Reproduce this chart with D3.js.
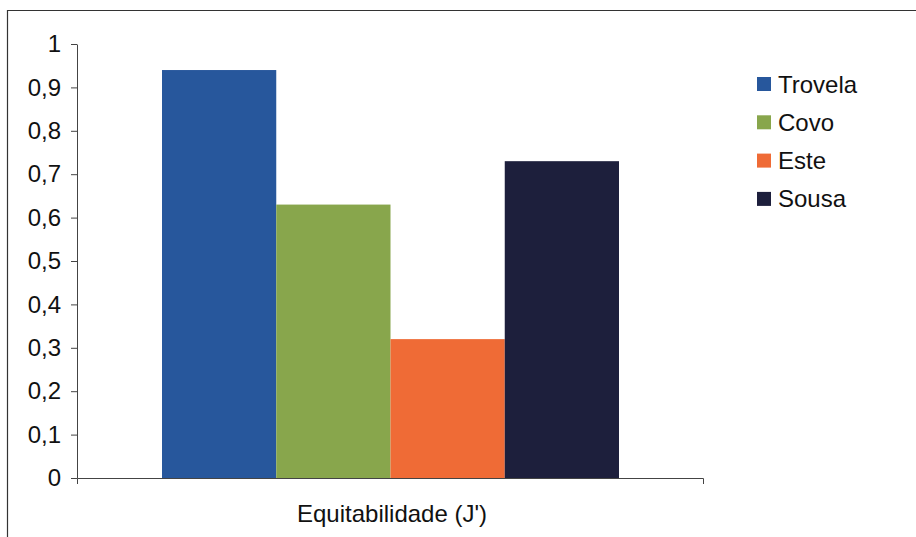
<!DOCTYPE html>
<html>
<head>
<meta charset="utf-8">
<script src="https://cdn.jsdelivr.net/npm/d3@7"></script>
<style>
  html, body { margin: 0; padding: 0; background: #fff; }
  svg { display: block; font-family: "Liberation Sans", Arial, sans-serif; }
</style>
</head>
<body>
<svg id="chart" width="916" height="537"></svg>
<script>
// Evenness index (J') per site
const sites = ["Trovela", "Covo", "Este", "Sousa"];
const values = [0.94, 0.63, 0.32, 0.73];
const colors = ["#27579c", "#88a64c", "#ef6b36", "#1d1f3c"];
const category = ["Equitabilidade (J')"];
const yTicks = [0, 0.1, 0.2, 0.3, 0.4, 0.5, 0.6, 0.7, 0.8, 0.9, 1];

const svg = d3.select("#chart");
const W = 916, H = 537;
const plot = { left: 77, right: 703, top: 44, bottom: 478 };
const FONT = "'Liberation Sans', Arial, sans-serif";

// Outer frame (top and left edges visible)
svg.append("line").attr("x1", 7).attr("x2", W).attr("y1", 10.5).attr("y2", 10.5)
  .attr("stroke", "#333").attr("stroke-width", 1.2);
svg.append("line").attr("x1", 7.5).attr("x2", 7.5).attr("y1", 10).attr("y2", H)
  .attr("stroke", "#333").attr("stroke-width", 1.2);

const y = d3.scaleLinear().domain([0, 1]).range([plot.bottom, plot.top]);
const x0 = d3.scaleBand().domain(category).range([plot.left, plot.right]).paddingInner(0).paddingOuter(0);
// bars fill the inner part of the category, with gaps on both sides
const x1 = d3.scaleBand().domain(sites)
  .range([x0(category[0]) + 85, x0(category[0]) + x0.bandwidth() - 84]).padding(0);

// Bars
svg.append("g").selectAll("rect")
  .data(sites.map((s, i) => ({ s, v: values[i], c: colors[i] })))
  .join("rect")
  .attr("x", d => x1(d.s))
  .attr("width", x1.bandwidth())
  .attr("y", d => y(d.v))
  .attr("height", d => y(0) - y(d.v))
  .attr("fill", d => d.c);

// Y axis
const yAxis = d3.axisLeft(y).tickValues(yTicks).tickSize(6).tickSizeOuter(0)
  .tickFormat(d => d3.format("~g")(d).replace(".", ","));
const gy = svg.append("g").attr("transform", `translate(${plot.left},0)`).call(yAxis);
gy.attr("font-family", FONT);
gy.select(".domain").attr("stroke", "#444");
gy.selectAll(".tick line").attr("stroke", "#444");
gy.selectAll(".tick text").attr("font-size", 24).attr("fill", "#111").attr("x", -16);

// X axis
const xAxis = d3.axisBottom(x0).tickSize(0).tickSizeOuter(6).tickFormat(() => "");
const gx = svg.append("g").attr("transform", `translate(0,${plot.bottom})`).call(xAxis);
gx.select(".domain").attr("stroke", "#444");
gx.selectAll(".tick").remove();

svg.append("text")
  .attr("x", x0(category[0]) + x0.bandwidth() / 2 + 2)
  .attr("y", 522)
  .attr("text-anchor", "middle")
  .attr("font-family", FONT)
  .attr("font-size", 24)
  .attr("fill", "#111")
  .text(category[0]);

// Legend
const legend = svg.append("g").attr("transform", "translate(757,84)");
const rowGap = 38.3;
sites.forEach((s, i) => {
  const g = legend.append("g").attr("transform", `translate(0,${i * rowGap})`);
  g.append("rect").attr("x", 0).attr("y", -7).attr("width", 14).attr("height", 14).attr("fill", colors[i]);
  g.append("text").attr("x", 21).attr("y", 8.5).attr("font-family", FONT)
    .attr("font-size", 24).attr("fill", "#111").text(s);
});
</script>
</body>
</html>
